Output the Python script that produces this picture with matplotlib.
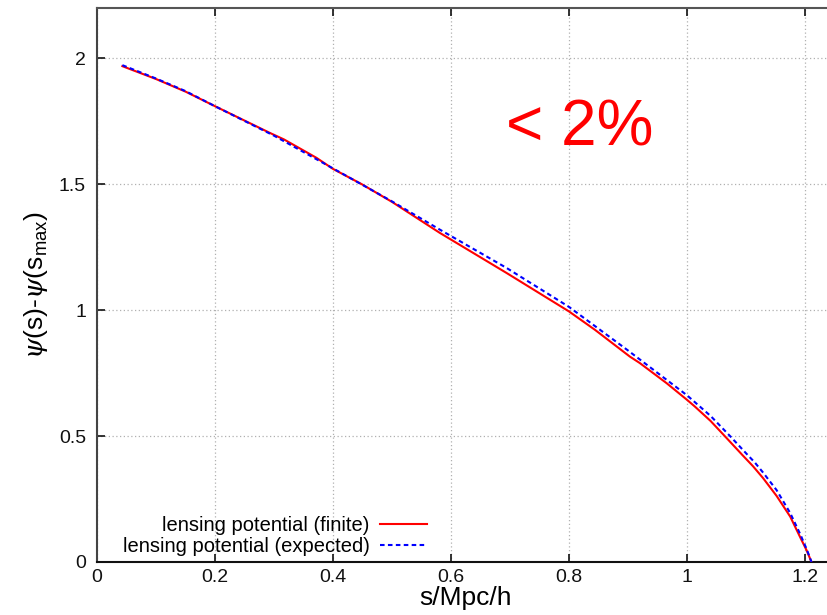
import matplotlib
matplotlib.use("Agg")
import matplotlib.pyplot as plt

plt.rcParams['font.family'] = ['Liberation Sans', 'DejaVu Sans']
plt.rcParams['mathtext.fontset'] = 'custom'
plt.rcParams['mathtext.rm'] = 'Liberation Sans'
plt.rcParams['mathtext.it'] = 'DejaVu Serif:italic'

# lensing potential, finite-aperture computation
s_finite = [0.043, 0.10, 0.15, 0.20, 0.293, 0.317, 0.372, 0.40, 0.449, 0.50,
            0.581, 0.694, 0.80, 0.844, 0.903, 0.920, 0.9655, 1.0, 1.013, 1.040,
            1.064, 1.095, 1.112, 1.129, 1.152, 1.175, 1.1915, 1.203, 1.211]
psi_finite = [1.969, 1.918, 1.868, 1.810, 1.704, 1.678, 1.605, 1.561, 1.500, 1.430,
              1.307, 1.148, 0.995, 0.922, 0.816, 0.790, 0.710, 0.644, 0.618, 0.560,
              0.500, 0.422, 0.380, 0.333, 0.262, 0.180, 0.100, 0.045, 0.0]

# lensing potential, expected profile
s_expected = [0.043, 0.10, 0.15, 0.20, 0.30, 0.40, 0.50, 0.581, 0.694, 0.80,
              0.90, 1.0, 1.04, 1.073, 1.10, 1.115, 1.129, 1.152, 1.175, 1.192,
              1.203, 1.211]
psi_expected = [1.973, 1.920, 1.870, 1.810, 1.693, 1.563, 1.432, 1.320, 1.168, 1.013,
                0.840, 0.662, 0.580, 0.500, 0.432, 0.395, 0.355, 0.285, 0.194, 0.110,
                0.050, 0.0]

x_ticks = [0, 0.2, 0.4, 0.6, 0.8, 1, 1.2]
x_tick_labels = ['0', '0.2', '0.4', '0.6', '0.8', '1', '1.2']
y_ticks = [0, 0.5, 1, 1.5, 2]
y_tick_labels = ['0', '0.5', '1', '1.5', '2']

W, H = 827, 615
fig = plt.figure(figsize=(W / 100, H / 100), dpi=100)
left, right_px, top_px, bottom_px = 97, 834.5, 8, 562
ax = fig.add_axes([left / W, (H - bottom_px) / H, (right_px - left) / W, (bottom_px - top_px) / H])

ax.plot(s_finite, psi_finite, color='#ff0000', lw=1.5, label='lensing potential (finite)', zorder=3)
ax.plot(s_expected, psi_expected, color='#0000ff', lw=1.5, dashes=(2.2, 1.6),
        label='lensing potential (expected)', zorder=4)

ax.set_xlim(0, 1.25)
ax.set_ylim(0, 2.2)
ax.set_xticks(x_ticks)
ax.set_xticklabels(x_tick_labels)
ax.set_yticks(y_ticks)
ax.set_yticklabels(y_tick_labels)
ax.tick_params(axis='both', direction='in', length=6, width=1.2, labelsize=14,
               colors='#111111', pad=5)
ax.tick_params(axis='x', top=True)
ax.tick_params(axis='y', pad=8)

ax.grid(True, color='#b0b0b0', linestyle=(0, (1, 2)), linewidth=0.9)
ax.set_axisbelow(True)

for side in ['top', 'left', 'bottom']:
    ax.spines[side].set_linewidth(1.5)
ax.spines['top'].set_color('#555555')
ax.spines['left'].set_color('#444444')
ax.spines['bottom'].set_color('#111111')
ax.spines['right'].set_visible(False)

ax.set_xlabel('s/Mpc/h', fontsize=19, labelpad=0)
ax.set_ylabel(r'$\psi$(s)-$\psi$(s$_{\rm max}$)', fontsize=19, labelpad=6)

ax.text(0.555, 0.7527, '< 2%', transform=ax.transAxes, color='#ff0000',
        fontsize=46, ha='left', va='baseline')

leg = ax.legend(loc='lower right', bbox_to_anchor=(0.4475, 0.010), frameon=False,
                markerfirst=False, fontsize=14.5, handlelength=2.35, handletextpad=0.5,
                labelspacing=0.1, borderpad=0, borderaxespad=0)

fig.savefig('out.png', dpi=100)
